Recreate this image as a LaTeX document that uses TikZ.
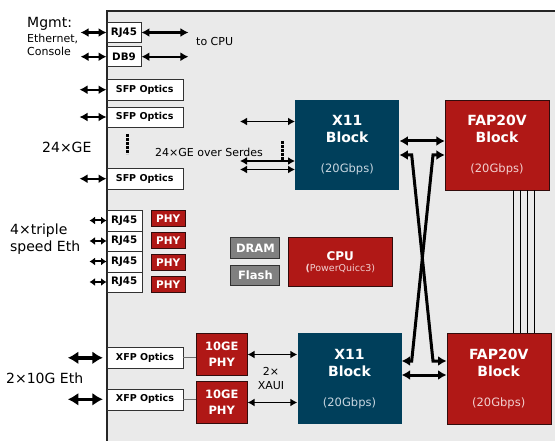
\documentclass[tikz,border=0pt]{standalone}
\usepackage{fontspec}
\setmainfont{DejaVu Sans}
\usetikzlibrary{arrows.meta,positioning}
\definecolor{panelgray}{RGB}{234,234,234}
\definecolor{chipred}{RGB}{176,24,22}
\definecolor{chipteal}{RGB}{0,63,91}
\definecolor{memgray}{RGB}{128,128,128}
\definecolor{boxline}{RGB}{50,50,50}
\definecolor{redline}{RGB}{50,12,12}
\definecolor{subteal}{RGB}{200,214,224}
\definecolor{subred}{RGB}{242,208,208}
\definecolor{xfplink}{RGB}{110,110,110}
\tikzset{
  optbox/.style={draw=boxline,fill=white,inner sep=0pt,font=\bfseries\fontsize{9.5}{11}\selectfont},
  portbox/.style={optbox,font=\bfseries\fontsize{10.3}{11}\selectfont},
  phybox/.style={draw=redline,fill=chipred,text=white,inner sep=0pt,align=center,font=\bfseries\fontsize{10.5}{12.5}\selectfont},
  memblock/.style={draw=boxline,line width=1pt,fill=memgray,text=white,inner sep=0pt,minimum width=49pt,minimum height=20.5pt,font=\bfseries\fontsize{11.5}{13}\selectfont},
  chip/.style={inner sep=0pt,text=white,align=center,minimum width=104pt,minimum height=90.5pt,font=\bfseries\fontsize{14}{17}\selectfont},
  sidelbl/.style={inner sep=0pt,font=\fontsize{14}{17}\selectfont},
  note/.style={inner sep=0pt,font=\fontsize{11}{13}\selectfont},
  biarrow/.style={{Latex[length=8pt,width=9pt]}-{Latex[length=8pt,width=9pt]},line width=2.2pt},
  thinarrow/.style={{Latex[length=7pt,width=8pt]}-{Latex[length=7pt,width=8pt]},line width=1.6pt},
  stubarrow/.style={{Latex[length=5.5pt,width=8pt]}-{Latex[length=5.5pt,width=8pt]},line width=2pt},
  fatarrow/.style={{Latex[length=10.5pt,width=13pt]}-{Latex[length=10.5pt,width=13pt]},line width=3.6pt},
  busarrow/.style={{Latex[length=8.5pt,width=10pt]}-{Latex[length=8.5pt,width=10pt]},line width=3pt},
  dotline/.style={line width=3pt,dash pattern=on 2.6pt off 1.4pt}
}
\newcommand{\gbps}[1]{{\mdseries\fontsize{11.5}{12}\selectfont\color{#1}(20Gbps)}}
\begin{document}
\begin{tikzpicture}[x=1pt,y=-1pt]
  \useasboundingbox (0,0) rectangle (555,441);
  \fill[panelgray] (107,11) rectangle (555,441);
  \draw[line width=1.6pt,black!85] (107,441) -- (107,11) -- (555,11);
  % management ports
  \node[sidelbl,anchor=base west] (mgmt) at (27,28) {Mgmt:};
  \node[note,anchor=base west] (mgmteth) at (27,43) {Ethernet,};
  \node[note,anchor=base west] (mgmtcon) at (27,56) {Console};
  \node[portbox,minimum width=34.5pt,minimum height=20pt] (rjm) at (124,32.5) {RJ45};
  \node[portbox,minimum width=34.5pt,minimum height=20pt] (db9) at (124,56.7) {DB9};
  \foreach \n in {rjm,db9} {
    \coordinate[left=26pt of \n] (\n in);
    \coordinate[right=47pt of \n] (\n out);
    \draw[biarrow] (\n in) -- (\n);
    \draw[biarrow] (\n) -- (\n out);
  }
  \node[note,anchor=base west] (tocpu) at (196,46) {to CPU};
  % 24xGE
  \foreach \n/\y in {a/89.7,b/117,c/178.7} {
    \node[optbox,minimum width=76pt,minimum height=20.5pt] (sfp\n) at (144.7,\y) {SFP Optics};
    \coordinate[left=27pt of sfp\n] (sfp\n in);
    \draw[biarrow] (sfp\n in) -- (sfp\n);
  }
  \draw[dotline] (127,134) -- (127,154);
  \node[sidelbl,anchor=base west] (gelbl) at (42,153) {24×GE};
  \node[note,anchor=base west] (serdes) at (155,157) {24×GE over Serdes};
  % switch chips
  \node[chip,fill=chipteal] (x11a) at (347.2,145) {X11\\Block\\[13pt]\gbps{subteal}};
  \node[chip,fill=chipred,draw=redline] (fapa) at (497,145) {FAP20V\\Block\\[13pt]\gbps{subred}};
  \node[chip,fill=chipteal] (x11b) at (349.5,378.7) {X11\\Block\\[13pt]\gbps{subteal}};
  \node[chip,fill=chipred,draw=redline] (fapb) at (498.7,378.7) {FAP20V\\Block\\[13pt]\gbps{subred}};
  \foreach \k/\y in {1/-24.5,2/-16,3/23.5} {
    \coordinate[left=55pt of x11a,yshift=\y pt] (serin\k);
    \draw[thinarrow] (serin\k) -- (serin\k -| x11a.west);
  }
  \draw[dotline] (282,141) -- (282,160);
  \draw[busarrow] ([yshift=4pt]x11a.east) -- ([yshift=4pt]fapa.west);
  \draw[busarrow] ([yshift=3.7pt]x11b.east) -- ([yshift=3.7pt]fapb.west);
  \coordinate (crossTL) at (411.7,155);
  \coordinate (crossTR) at (433,155);
  \coordinate (crossBL) at (411.7,361);
  \coordinate (crossBR) at (433,361);
  \draw[busarrow] (x11a.east |- crossTL) -- (crossTL) -- (crossBR) -- (fapb.west |- crossBR);
  \draw[busarrow] (fapa.west |- crossTR) -- (crossTR) -- (crossBL) -- (x11b.east |- crossBL);
  \foreach \dx in {16.3,23.7,30.3,37} {
    \draw[line width=0.8pt] ([xshift=\dx pt]fapa.south) -- ([xshift=\dx pt]fapa.south |- fapb.north);
  }
  % triple speed ports
  \foreach \i/\y in {1/220.5,2/241,3/261.5,4/282} {
    \node[portbox,minimum width=35pt,minimum height=20.5pt] (rj\i) at (124.2,\y) {RJ45};
    \coordinate[left=17pt of rj\i] (rjin\i);
    \draw[stubarrow] (rjin\i) -- (rj\i);
  }
  \foreach \i/\y in {1/218.3,2/240.3,3/262.3,4/284.3} {
    \node[phybox,minimum width=34.3pt,minimum height=16.7pt] (phy\i) at (168.1,\y) {PHY};
  }
  \node[sidelbl,anchor=base west] (tslbl) at (10,235) {4×triple};
  \node[sidelbl,anchor=base west] (tslbl2) at (10,252) {speed Eth};
  % cpu and memory
  \node[memblock] (dram) at (255.4,248) {DRAM};
  \node[memblock] (flash) at (255.4,275.5) {Flash};
  \node[phybox,minimum width=104pt,minimum height=48.7pt,font=\bfseries\fontsize{12}{11}\selectfont] (cpu) at (340.3,261.7) {CPU\\{\mdseries\fontsize{9.5}{11}\selectfont\color{subred}{\bfseries(}PowerQuicc3)}};
  % 10GE ports
  \foreach \n/\y/\p in {a/357.8/354.5,b/399.3/402.5} {
    \node[optbox,minimum width=76.5pt,minimum height=21pt] (xfp\n) at (145,\y) {XFP Optics};
    \node[phybox,minimum width=51.3pt,minimum height=42.3pt,font=\bfseries\fontsize{11.5}{16}\selectfont] (tgphy\n) at (221.7,\p) {10GE\\PHY};
    \coordinate[left=38.7pt of xfp\n] (xfpin\n);
    \draw[fatarrow,shorten >=3.7pt] (xfpin\n) -- (xfp\n);
    \draw[xfplink,line width=1.2pt] (xfp\n) -- (xfp\n -| tgphy\n.west);
    \draw[thinarrow] (tgphy\n) -- (tgphy\n -| x11b.west);
  }
  \node[sidelbl,anchor=base west] (tenlbl) at (6,383) {2×10G Eth};
  \node[note,anchor=base] (xaui) at (271,375) {2×};
  \node[note,anchor=base] (xaui2) at (271,389) {XAUI};
\end{tikzpicture}
\end{document}
